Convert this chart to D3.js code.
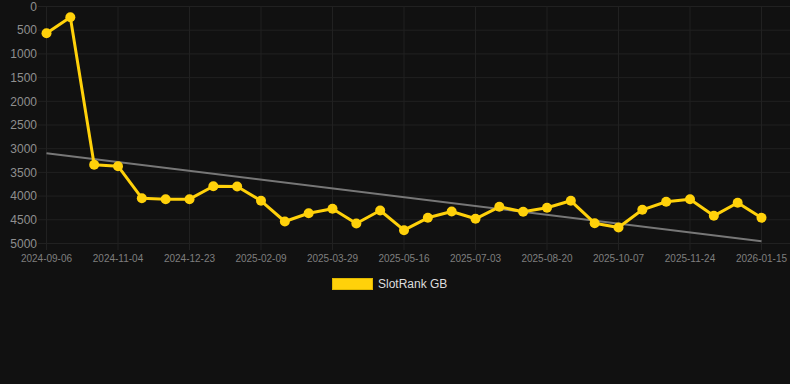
<!DOCTYPE html>
<html><head><meta charset="utf-8">
<script src="https://cdn.jsdelivr.net/npm/d3@7"></script>
<style>html,body{margin:0;padding:0;background:#111111;}svg{display:block;}</style>
</head><body>
<script>
const dates = ["2024-09-06","2024-09-26","2024-10-15","2024-11-04","2024-11-20","2024-12-07","2024-12-23","2025-01-08","2025-01-24","2025-02-09","2025-02-25","2025-03-13","2025-03-29","2025-04-14","2025-04-30","2025-05-16","2025-06-01","2025-06-17","2025-07-03","2025-07-19","2025-08-04","2025-08-20","2025-09-05","2025-09-21","2025-10-07","2025-10-23","2025-11-08","2025-11-24","2025-12-11","2025-12-29","2026-01-15"];
const ranks = [563,226,3340,3369,4044,4065,4065,3791,3797,4099,4536,4361,4268,4578,4304,4719,4458,4325,4479,4226,4331,4247,4099,4572,4662,4289,4120,4065,4416,4141,4458];
const trendEnds = [3095, 4951];
const yTicks = [0,500,1000,1500,2000,2500,3000,3500,4000,4500,5000];
const seriesName = "SlotRank GB";

const W = 790, H = 384;
const svg = d3.select("body").append("svg").attr("width", W).attr("height", H);
svg.append("rect").attr("width", W).attr("height", H).attr("fill", "#111111");

const x = d3.scalePoint().domain(dates).range([46.5, 761.5]);
const y = d3.scaleLinear().domain([0, 5000]).range([6.5, 243.5]);

// horizontal grid
svg.append("g").selectAll("line").data(yTicks).join("line")
  .attr("x1", 38).attr("x2", W).attr("y1", d => y(d)).attr("y2", d => y(d))
  .attr("stroke", "#212121").attr("stroke-width", 1);
// vertical grid at labelled categories
const xLabeled = dates.filter((d, i) => i % 3 === 0);
svg.append("g").selectAll("line").data(xLabeled).join("line")
  .attr("x1", d => x(d)).attr("x2", d => x(d)).attr("y1", 6).attr("y2", 250)
  .attr("stroke", "#212121").attr("stroke-width", 1);

// y axis labels
svg.append("g").selectAll("text").data(yTicks).join("text")
  .attr("x", 37).attr("y", d => y(d)).attr("dy", "0.35em")
  .attr("text-anchor", "end").attr("fill", "#8f8f8f")
  .attr("font-family", "Liberation Sans, Arial, sans-serif").attr("font-size", 12)
  .text(d => d);
// x axis labels
svg.append("g").selectAll("text").data(xLabeled).join("text")
  .attr("x", d => x(d)).attr("y", 262)
  .attr("text-anchor", "middle").attr("fill", "#7f7f7f")
  .attr("font-family", "Liberation Sans, Arial, sans-serif").attr("font-size", 10)
  .text(d => d);

// trend line
svg.append("line")
  .attr("x1", x(dates[0])).attr("y1", y(trendEnds[0]))
  .attr("x2", x(dates[dates.length - 1])).attr("y2", y(trendEnds[1]))
  .attr("stroke", "#777777").attr("stroke-width", 2);

// series line
const line = d3.line().x((d, i) => x(dates[i])).y(d => y(d));
svg.append("path").datum(ranks).attr("d", line)
  .attr("fill", "none").attr("stroke", "#FFD10A").attr("stroke-width", 3)
  .attr("stroke-linejoin", "round");
svg.append("g").selectAll("circle").data(ranks).join("circle")
  .attr("cx", (d, i) => x(dates[i])).attr("cy", d => y(d)).attr("r", 5)
  .attr("fill", "#FFD10A");

// legend
svg.append("rect").attr("x", 332.5).attr("y", 278.5).attr("width", 40).attr("height", 11)
  .attr("fill", "#FFD10A").attr("stroke", "#E0B800").attr("stroke-width", 1);
svg.append("text").attr("x", 378).attr("y", 284).attr("dy", "0.35em")
  .attr("fill", "#dddddd").attr("font-family", "Liberation Sans, Arial, sans-serif")
  .attr("font-size", 12).text(seriesName);
</script>
</body></html>
